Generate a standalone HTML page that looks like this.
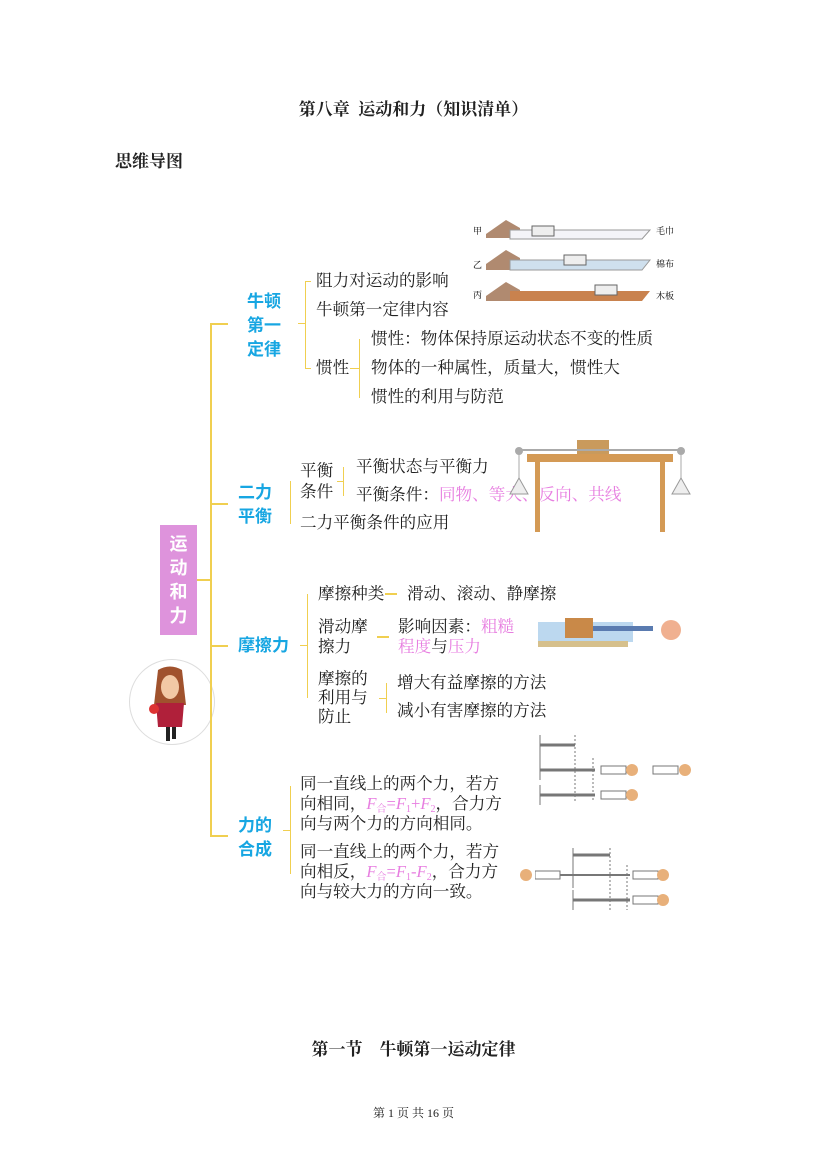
<!DOCTYPE html>
<html><head><meta charset="utf-8">
<style>
body{margin:0;background:#fff;}
#p{position:relative;width:827px;height:1169px;overflow:hidden;font-family:"Liberation Serif","Noto Serif CJK SC",serif;color:#222;}
.t{position:absolute;white-space:nowrap;font-size:16.6px;line-height:20px;}
.b{position:absolute;font-family:"Liberation Sans","Noto Sans CJK SC",sans-serif;font-weight:bold;color:#17a6e2;font-size:17px;line-height:24px;}
.pk{color:#e77ee0;}
.y{position:absolute;background:#f0cf50;}
sub{font-size:10px;line-height:0;vertical-align:-3px;}
</style></head><body><div id="p">
<div class="t" style="left:0;width:827px;text-align:center;top:100px;font-size:17px;font-weight:bold;">第八章&nbsp; 运动和力（知识清单）</div>
<div class="t" style="left:115px;top:152px;font-size:17px;font-weight:bold;">思维导图</div>

<div style="position:absolute;left:160px;top:525px;width:37px;height:110px;background:#de93dc;"></div>
<div class="b" style="left:160px;top:532px;width:37px;text-align:center;color:#fff;font-size:18px;line-height:24px;">运<br>动<br>和<br>力</div>
<div style="position:absolute;left:129px;top:659px;width:84px;height:84px;border-radius:50%;border:1px solid #ddd;"></div>
<svg style="position:absolute;left:140px;top:665px" width="60" height="80">
<path d="M18 5 Q30 -2 42 5 L46 40 L14 40 Z" fill="#a0522d"/>
<ellipse cx="30" cy="22" rx="9" ry="12" fill="#f2c9a5"/>
<path d="M16 38 L44 38 L42 62 L18 62 Z" fill="#b0203a"/>
<circle cx="14" cy="44" r="5" fill="#d33"/>
<rect x="26" y="62" width="4" height="14" fill="#222"/><rect x="32" y="62" width="4" height="12" fill="#222"/>
</svg>

<div class="y" style="left:210px;top:323px;width:2px;height:514px;"></div>
<div class="y" style="left:210px;top:323px;width:18px;height:2px;"></div>
<div class="y" style="left:210px;top:503px;width:18px;height:2px;"></div>
<div class="y" style="left:210px;top:645px;width:18px;height:2px;"></div>
<div class="y" style="left:210px;top:835px;width:18px;height:2px;"></div>
<div class="y" style="left:197px;top:579px;width:14px;height:2px;"></div>

<div class="b" style="left:247px;top:290px;">牛顿<br>第一<br>定律</div>
<div class="b" style="left:238px;top:481px;">二力<br>平衡</div>
<div class="b" style="left:238px;top:634px;">摩擦力</div>
<div class="b" style="left:238px;top:814px;">力的<br>合成</div>

<div class="y" style="left:305px;top:281px;width:1px;height:88px;"></div>
<div class="y" style="left:305px;top:281px;width:6px;height:1px;"></div>
<div class="y" style="left:305px;top:368px;width:6px;height:1px;"></div>
<div class="y" style="left:298px;top:323px;width:8px;height:1px;"></div>
<div class="y" style="left:359px;top:339px;width:1px;height:59px;"></div>
<div class="y" style="left:350px;top:368px;width:10px;height:1px;"></div>
<div class="y" style="left:290px;top:481px;width:1px;height:43px;"></div>
<div class="y" style="left:343px;top:467px;width:1px;height:29px;"></div>
<div class="y" style="left:337px;top:481px;width:7px;height:1px;"></div>
<div class="y" style="left:307px;top:594px;width:1px;height:104px;"></div>
<div class="y" style="left:300px;top:645px;width:8px;height:1px;"></div>
<div class="y" style="left:385px;top:593px;width:12px;height:2px;"></div>
<div class="y" style="left:377px;top:636px;width:12px;height:2px;"></div>
<div class="y" style="left:386px;top:683px;width:1px;height:30px;"></div>
<div class="y" style="left:379px;top:698px;width:7px;height:1px;"></div>
<div class="y" style="left:290px;top:786px;width:1px;height:88px;"></div>
<div class="y" style="left:283px;top:830px;width:8px;height:1px;"></div>

<div class="t" style="left:316px;top:271px;">阻力对运动的影响</div>
<div class="t" style="left:316px;top:300px;">牛顿第一定律内容</div>
<div class="t" style="left:316px;top:358px;">惯性</div>
<div class="t" style="left:371px;top:329px;">惯性：物体保持原运动状态不变的性质</div>
<div class="t" style="left:371px;top:358px;">物体的一种属性，质量大，惯性大</div>
<div class="t" style="left:371px;top:387px;">惯性的利用与防范</div>

<div class="t" style="left:300px;top:460px;line-height:21px;">平衡<br>条件</div>
<div class="t" style="left:356px;top:457px;">平衡状态与平衡力</div>
<div class="t" style="left:356px;top:485px;">平衡条件：<span class="pk">同物、等大、反向、共线</span></div>
<div class="t" style="left:300px;top:513px;">二力平衡条件的应用</div>

<div class="t" style="left:318px;top:584px;">摩擦种类</div>
<div class="t" style="left:407px;top:584px;">滑动、滚动、静摩擦</div>
<div class="t" style="left:318px;top:617px;">滑动摩<br>擦力</div>
<div class="t" style="left:398px;top:617px;">影响因素：<span class="pk">粗糙</span><br><span class="pk">程度</span>与<span class="pk">压力</span></div>
<div class="t" style="left:318px;top:669px;line-height:19px;">摩擦的<br>利用与<br>防止</div>
<div class="t" style="left:397px;top:673px;">增大有益摩擦的方法</div>
<div class="t" style="left:397px;top:701px;">减小有害摩擦的方法</div>

<div class="t" style="left:300px;top:774px;">同一直线上的两个力，若方<br>向相同，<span class="pk"><i>F</i><sub>合</sub>=<i>F</i><sub>1</sub>+<i>F</i><sub>2</sub></span>，合力方<br>向与两个力的方向相同。</div>
<div class="t" style="left:300px;top:842px;">同一直线上的两个力，若方<br>向相反，<span class="pk"><i>F</i><sub>合</sub>=<i>F</i><sub>1</sub>-<i>F</i><sub>2</sub></span>，合力方<br>向与较大力的方向一致。</div>

<svg style="position:absolute;left:470px;top:212px" width="220" height="92" font-size="9" font-family="Noto Serif CJK SC">
<text x="3" y="22">甲</text><text x="3" y="56">乙</text><text x="3" y="86">丙</text>
<text x="186" y="22">毛巾</text><text x="186" y="55">棉布</text><text x="186" y="87">木板</text>
<polygon points="16,22 36,8 50,16 50,26 16,26" fill="#b08a70"/><polygon points="40,18 180,18 172,27 40,27" fill="#f4f4f8" stroke="#999"/>
<rect x="62" y="14" width="22" height="10" fill="#eee" stroke="#666"/>
<polygon points="16,52 36,38 50,46 50,58 16,58" fill="#b08a70"/><polygon points="40,48 180,48 172,58 40,58" fill="#cfe0ee" stroke="#999"/>
<rect x="94" y="43" width="22" height="10" fill="#eee" stroke="#666"/>
<polygon points="16,84 36,70 50,78 50,89 16,89" fill="#b08a70"/><polygon points="40,79 180,79 172,89 40,89" fill="#c9824e"/>
<rect x="125" y="73" width="22" height="10" fill="#eee" stroke="#666"/>
</svg>
<svg style="position:absolute;left:505px;top:438px" width="190" height="96">
<rect x="72" y="2" width="32" height="14" fill="#c99a5c"/>
<line x1="14" y1="12" x2="176" y2="12" stroke="#aaa" stroke-width="2"/>
<circle cx="14" cy="13" r="4" fill="#aaa"/><circle cx="176" cy="13" r="4" fill="#aaa"/>
<rect x="22" y="16" width="146" height="8" fill="#d49a55"/>
<rect x="30" y="24" width="5" height="70" fill="#d49a55"/><rect x="155" y="24" width="5" height="70" fill="#d49a55"/>
<line x1="14" y1="15" x2="14" y2="40" stroke="#aaa"/><line x1="176" y1="15" x2="176" y2="40" stroke="#aaa"/>
<polygon points="14,40 5,56 23,56" fill="#eee" stroke="#999"/><polygon points="176,40 167,56 185,56" fill="#eee" stroke="#999"/>
</svg>
<svg style="position:absolute;left:535px;top:608px" width="150" height="42">
<rect x="3" y="14" width="95" height="20" fill="#bcd8ef"/><rect x="3" y="33" width="90" height="6" fill="#d6c08c"/>
<rect x="30" y="10" width="28" height="20" fill="#c98948"/><rect x="58" y="18" width="60" height="5" fill="#5a7bb0"/>
<circle cx="136" cy="22" r="10" fill="#f0b090"/>
</svg>
<svg style="position:absolute;left:535px;top:730px" width="165" height="182" stroke="#777" fill="none">
<line x1="5" y1="5" x2="5" y2="40"/><line x1="5" y1="15" x2="40" y2="15" stroke-width="3"/>
<line x1="40" y1="5" x2="40" y2="72" stroke-dasharray="2,2"/><line x1="58" y1="28" x2="58" y2="72" stroke-dasharray="2,2"/>
<line x1="5" y1="30" x2="5" y2="50"/><line x1="5" y1="40" x2="60" y2="40" stroke-width="3"/>
<rect x="66" y="36" width="25" height="8"/><circle cx="97" cy="40" r="6" fill="#e8b07a" stroke="none"/>
<rect x="118" y="36" width="25" height="8"/><circle cx="150" cy="40" r="6" fill="#e8b07a" stroke="none"/>
<line x1="5" y1="55" x2="5" y2="75"/><line x1="5" y1="65" x2="60" y2="65" stroke-width="3"/>
<rect x="66" y="61" width="25" height="8"/><circle cx="97" cy="65" r="6" fill="#e8b07a" stroke="none"/>
<line x1="38" y1="118" x2="38" y2="135"/><line x1="38" y1="125" x2="75" y2="125" stroke-width="3"/>
<line x1="75" y1="118" x2="75" y2="180" stroke-dasharray="2,2"/><line x1="92" y1="135" x2="92" y2="180" stroke-dasharray="2,2"/>
<rect x="0" y="141" width="25" height="8"/>
<line x1="38" y1="135" x2="38" y2="158"/><line x1="25" y1="145" x2="95" y2="145" stroke-width="2"/>
<rect x="98" y="141" width="25" height="8"/><circle cx="128" cy="145" r="6" fill="#e8b07a" stroke="none"/>
<line x1="38" y1="160" x2="38" y2="180"/><line x1="38" y1="170" x2="95" y2="170" stroke-width="3"/>
<rect x="98" y="166" width="25" height="8"/><circle cx="128" cy="170" r="6" fill="#e8b07a" stroke="none"/>
</svg>
<svg style="position:absolute;left:516px;top:865px" width="20" height="20"><circle cx="10" cy="10" r="6" fill="#e8b07a"/></svg>

<div class="t" style="left:0;width:827px;text-align:center;top:1040px;font-size:17px;font-weight:bold;">第一节&nbsp;&nbsp;&nbsp; 牛顿第一运动定律</div>
<div class="t" style="left:0;width:827px;text-align:center;top:1103px;font-size:12px;">第 1 页 共 16 页</div>
</div></body></html>
